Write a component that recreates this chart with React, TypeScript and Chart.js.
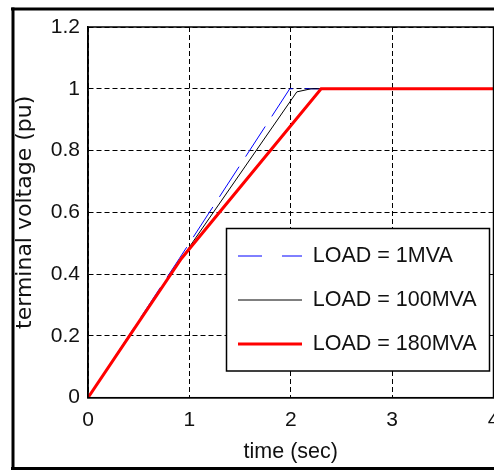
import { useEffect, useRef } from 'react';
import { Chart, registerables } from 'chart.js';

Chart.register(...registerables);

// ---- data ----
const seriesLabels = ['LOAD = 1MVA', 'LOAD = 100MVA', 'LOAD = 180MVA'];
const time1MVA = [0, 0.9, 1.99, 4];
const volt1MVA = [0, 0.45, 1.0, 1.0];
const time100MVA = [0, 0.92, 2.06, 2.2, 4];
const volt100MVA = [0, 0.45, 0.99, 1.0, 1.0];
const time180MVA = [0, 0.92, 2.3, 4];
const volt180MVA = [0, 0.45, 1.0, 1.0];
const xMin = 0, xMax = 4, xStep = 1;
const yMin = 0, yMax = 1.2, yStep = 0.2;
const xTitle = 'time (sec)';
const yTitle = 'terminal voltage (pu)';

const SANS = "'Liberation Sans', Arial, sans-serif";

const toPts = (t: number[], v: number[]) => t.map((x, i) => ({ x, y: v[i] }));

const decorPlugin = {
  id: 'decor',
  afterLayout(chart: any) {
    const lg = chart.legend;
    if (!lg) return;
    lg.left = 215.5;
    lg.top = 222.75;
    lg.width = 278.5;
    lg.height = 222;
    lg.right = 494;
    lg.bottom = 444.75;
  },
  afterDatasetsDraw(chart: any) {
    const ctx = chart.ctx;
    ctx.save();
    ctx.fillStyle = '#fff';
    ctx.fillRect(226.5, 228.5, 263, 142.5);
    ctx.strokeStyle = '#000';
    ctx.lineWidth = 1.5;
    ctx.setLineDash([]);
    ctx.strokeRect(226.5, 228.5, 263, 142.5);
    ctx.restore();
    chart.legend.draw();
  },
  afterDraw(chart: any) {
    const ctx = chart.ctx;
    const a = chart.chartArea;
    ctx.save();
    ctx.setLineDash([]);
    ctx.strokeStyle = '#000';
    ctx.lineWidth = 1.5;
    ctx.strokeRect(a.left, a.top, a.right - a.left, a.bottom - a.top);
    ctx.fillStyle = '#000';
    ctx.fillRect(11, 7.5, 483, 3);
    ctx.fillRect(11.5, 7.5, 3, 462.5);
    ctx.fillRect(11, 467, 483, 3);
    ctx.restore();
  },
};

export default function App() {
  const ref = useRef<HTMLCanvasElement>(null);

  useEffect(() => {
    const canvas = ref.current;
    if (!canvas) return;
    const tickFont = { family: SANS, size: 21 };
    const fmt = (v: any) => String(Math.round(Number(v) * 10) / 10);
    const chart = new Chart(canvas, {
      type: 'line',
      data: {
        datasets: [
          {
            label: seriesLabels[0],
            data: toPts(time1MVA, volt1MVA),
            borderColor: '#0000ff',
            borderWidth: 1,
            borderDash: [36, 12],
            pointRadius: 0,
            pointStyle: 'line',
            tension: 0,
            order: 3,
          },
          {
            label: seriesLabels[1],
            data: toPts(time100MVA, volt100MVA),
            borderColor: '#000000',
            borderWidth: 1,
            pointRadius: 0,
            pointStyle: 'line',
            tension: 0,
            order: 2,
          },
          {
            label: seriesLabels[2],
            data: toPts(time180MVA, volt180MVA),
            borderColor: '#ff0000',
            borderWidth: 3,
            pointRadius: 0,
            pointStyle: 'line',
            tension: 0,
            order: 1,
          },
        ],
      },
      options: {
        responsive: false,
        animation: false,
        devicePixelRatio: 1,
        events: [],
        layout: { padding: { left: 0, right: 0.5, top: 27, bottom: 0 } },
        scales: {
          x: {
            type: 'linear',
            min: xMin,
            max: xMax,
            ticks: { stepSize: xStep, color: '#111', font: tickFont, padding: 9.7, callback: fmt },
            grid: { color: '#000', lineWidth: 1, drawTicks: false, z: -1 },
            border: { display: true, color: '#000', width: 1.5, dash: [5, 3] },
            title: {
              display: true,
              text: xTitle,
              color: '#111',
              font: { family: SANS, size: 21.5 },
              padding: { top: 0, bottom: 4.6 },
            },
            afterFit: (s: any) => {
              s.height = 72.3;
              s.paddingLeft = 0;
              s.paddingRight = 0;
            },
          },
          y: {
            type: 'linear',
            min: yMin,
            max: yMax,
            ticks: { stepSize: yStep, color: '#111', font: tickFont, padding: 8, callback: fmt },
            grid: { color: '#000', lineWidth: 1, drawTicks: false, z: -1 },
            border: { display: true, color: '#000', width: 1.5, dash: [5, 3] },
            title: {
              display: true,
              text: yTitle,
              color: '#111',
              font: { family: "'DejaVu Sans', sans-serif", size: 22 },
              padding: { top: 11.8, bottom: 0 },
            },
            afterFit: (s: any) => {
              s.width = 88;
            },
          },
        },
        plugins: {
          tooltip: { enabled: false },
          legend: {
            display: true,
            position: 'chartArea' as any,
            align: 'start',
            labels: {
              usePointStyle: true,
              pointStyleWidth: 64,
              boxWidth: 64,
              padding: 22.5,
              color: '#111',
              font: { family: SANS, size: 21.5 },
              sort: (a: any, b: any) => a.datasetIndex - b.datasetIndex,
              generateLabels: (c: any) => {
                const items = (Chart.defaults.plugins.legend.labels as any).generateLabels(c);
                items.forEach((it: any) => {
                  it.pointStyle = 'line';
                  if (it.datasetIndex === 0) it.lineDash = [24, 20];
                });
                return items;
              },
            },
          },
        },
      },
      plugins: [decorPlugin],
    });
    return () => chart.destroy();
  }, []);

  return (
    <div style={{ position: 'absolute', left: 0, top: 0, width: 494, height: 470, overflow: 'hidden', background: '#fff' }}>
      <canvas ref={ref} width={494} height={470} style={{ display: 'block', width: 494, height: 470 }} />
    </div>
  );
}
